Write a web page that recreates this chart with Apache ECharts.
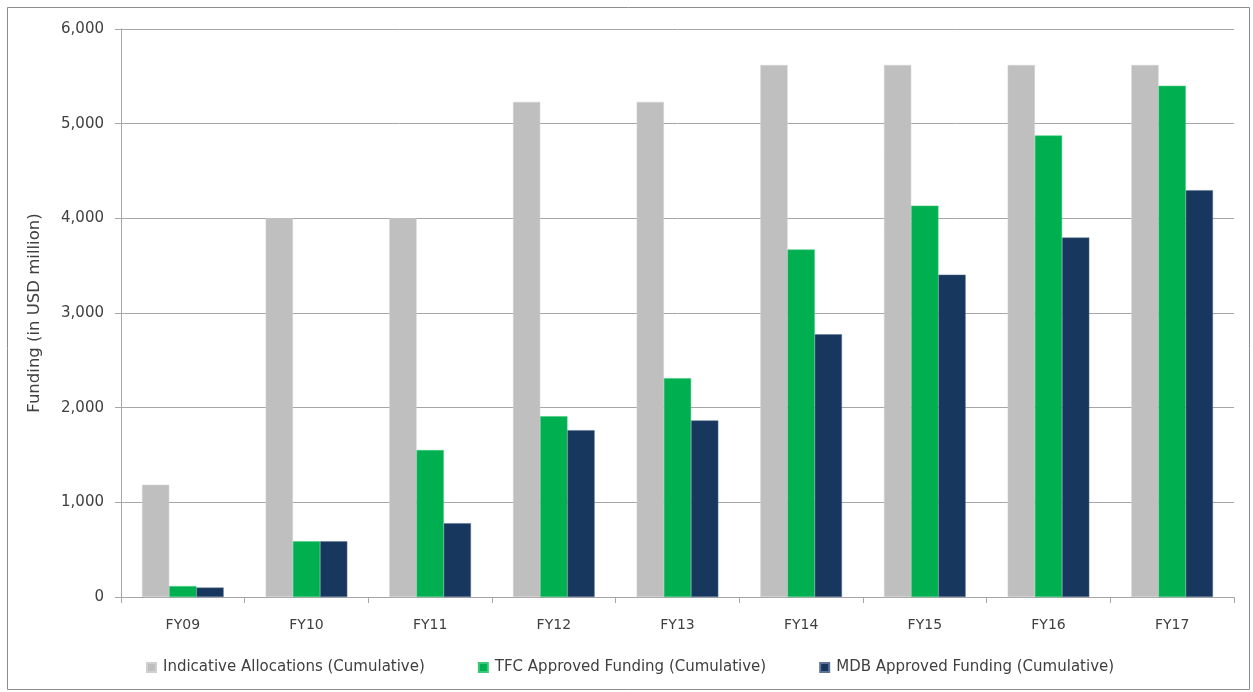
<!DOCTYPE html>
<html>
<head>
<meta charset="utf-8">
<script src="https://cdn.jsdelivr.net/npm/echarts@6/dist/echarts.min.js"></script>
<style>
  html, body { margin: 0; padding: 0; background: #fff; }
  #chart { width: 1253px; height: 692px; }
</style>
</head>
<body>
<div id="chart"></div>
<script>
// Fiscal years on the category axis
const years = ['FY09', 'FY10', 'FY11', 'FY12', 'FY13', 'FY14', 'FY15', 'FY16', 'FY17'];

// Cumulative funding, USD million
const indicativeAllocations = [1186, 4000, 4000, 5230, 5230, 5620, 5620, 5620, 5620];
const tfcApproved = [115, 588, 1552, 1910, 2312, 3670, 4134, 4875, 5400];
const mdbApproved = [100, 588, 780, 1762, 1865, 2775, 3405, 3797, 4297];

// Value-axis ticks
const yTicks = [0, 1000, 2000, 3000, 4000, 5000, 6000];

const seriesNames = [
  'Indicative Allocations (Cumulative)',
  'TFC Approved Funding (Cumulative)',
  'MDB Approved Funding (Cumulative)'
];

const FONT = '"DejaVu Sans", "Noto Sans", sans-serif';
const TEXT = '#404040';
const LINE = '#a6a6a6';

const chart = echarts.init(document.getElementById('chart'), null, { renderer: 'canvas' });

chart.setOption({
  animation: false,
  backgroundColor: '#ffffff',
  textStyle: { fontFamily: FONT },
  graphic: [{
    type: 'rect',
    shape: { x: 7.5, y: 7.5, width: 1242, height: 682 },
    style: { fill: 'none', stroke: '#8c8c8c', lineWidth: 1 },
    silent: true
  }],
  grid: { left: 121, right: 19, top: 29, bottom: 95 },
  legend: {
    top: 655,
    left: 141,
    itemWidth: 9,
    itemHeight: 9,
    itemGap: 53,
    icon: 'rect',
    textStyle: { fontFamily: FONT, fontSize: 15, color: TEXT, padding: [0, 0, 0, 2] },
    data: seriesNames
  },
  xAxis: {
    type: 'category',
    data: years,
    boundaryGap: true,
    axisLine: { lineStyle: { color: LINE, width: 1 } },
    axisTick: { show: true, length: 6, lineStyle: { color: LINE } },
    axisLabel: { color: TEXT, fontSize: 14, fontFamily: FONT, margin: 21 }
  },
  yAxis: {
    type: 'value',
    min: yTicks[0],
    max: yTicks[yTicks.length - 1],
    interval: yTicks[1] - yTicks[0],
    name: 'Funding (in USD million)',
    nameLocation: 'middle',
    nameGap: 78,
    nameTextStyle: { color: TEXT, fontSize: 16.5, fontFamily: FONT },
    axisLine: { show: true, lineStyle: { color: LINE, width: 1 } },
    axisTick: { show: true, length: 6, lineStyle: { color: LINE } },
    axisLabel: {
      color: TEXT,
      fontSize: 15,
      fontFamily: FONT,
      margin: 17,
      formatter: v => v.toLocaleString('en-US')
    },
    splitLine: { show: true, lineStyle: { color: LINE, width: 1 } }
  },
  series: [
    {
      name: seriesNames[0],
      type: 'bar',
      data: indicativeAllocations,
      barGap: '0%',
      barCategoryGap: '34%',
      itemStyle: { color: '#bfbfbf', borderColor: '#d0d0d0', borderWidth: 0.5 }
    },
    {
      name: seriesNames[1],
      type: 'bar',
      data: tfcApproved,
      barGap: '0%',
      barCategoryGap: '34%',
      itemStyle: { color: '#00b050', borderColor: '#3cc878', borderWidth: 0.5 }
    },
    {
      name: seriesNames[2],
      type: 'bar',
      data: mdbApproved,
      barGap: '0%',
      barCategoryGap: '34%',
      itemStyle: { color: '#17375e', borderColor: '#5c7393', borderWidth: 0.5 }
    }
  ]
});
</script>
</body>
</html>
